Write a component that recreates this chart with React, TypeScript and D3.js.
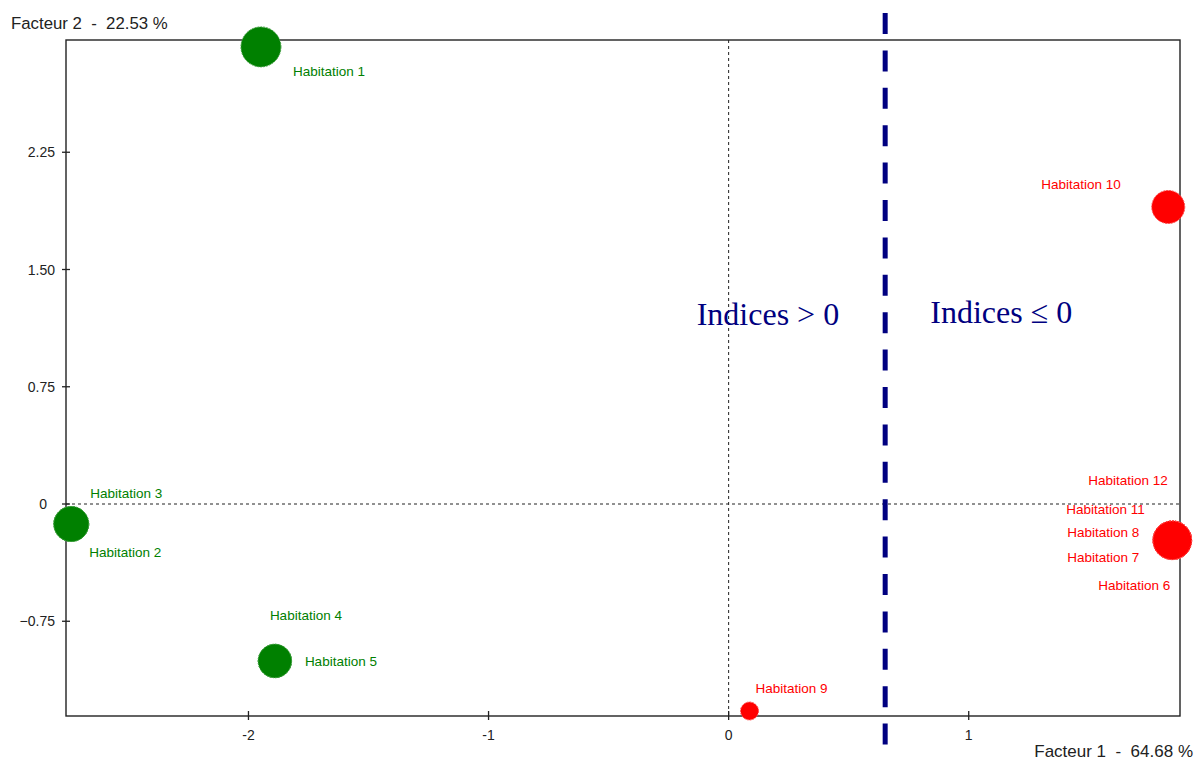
import React from "react";
import * as d3 from "d3";

// ---- data ----
const names = [
  "Habitation 1", "Habitation 2", "Habitation 3", "Habitation 4", "Habitation 5",
  "Habitation 6", "Habitation 7", "Habitation 8", "Habitation 9", "Habitation 10",
  "Habitation 11", "Habitation 12",
];
const factor1 = [-1.948, -2.738, -2.738, -1.89, -1.89, 1.848, 1.848, 1.848, 0.087, 1.831, 1.848, 1.848];
const factor2 = [2.924, -0.128, -0.128, -1.004, -1.004, -0.232, -0.232, -0.232, -1.324, 1.9, -0.232, -0.232];
const weights = [1.0, 0.766, 0.766, 0.697, 0.697, 0.93, 0.93, 0.93, 0.2025, 0.68, 0.93, 0.93];
const groups = ["pos", "pos", "pos", "pos", "pos", "neg", "neg", "neg", "neg", "neg", "neg", "neg"];
// label placement offsets (px) relative to point centre: [dx to text start, dy to text middle]
const labelOffsets: [number, number][] = [
  [32, 25], [18, 28], [19, -31], [-5, -45], [30, 1],
  [-74, 45], [-105, 17], [-105, -8], [6, -22], [-127, -22],
  [-106, -31], [-84, -60],
];
const xTicks = [-2, -1, 0, 1];
const yTicks = [-0.75, 0, 0.75, 1.5, 2.25];
const xTitle = "Facteur 1  -  64.68 %";
const yTitle = "Facteur 2  -  22.53 %";
const threshold = 0.652;
const annotations = [
  { text: "Indices > 0", x: -0.133, y: 1.145 },
  { text: "Indices \u2264 0", x: 0.84, y: 1.156 },
];

const colors: Record<string, string> = { pos: "#008000", neg: "#ff0000" };
const strokeColors: Record<string, string> = { pos: "#3f9f3f", neg: "#ff5050" };

export default function App() {
  const W = 1200, H = 760;
  const left = 66, right = 1180, top = 40, bottom = 716;
  const x = d3.scaleLinear().domain([-2.76, 1.88]).range([left, right]);
  const y = d3.scaleLinear().domain([-1.356, 2.968]).range([bottom, top]);
  const r = d3.scaleSqrt().domain([0, 1]).range([0, 20]);
  const fmtY = (v: number) => (v === 0 ? "0" : d3.format(".2f")(v));
  const sans = "'Liberation Sans', Arial, sans-serif";
  const serif = "'Liberation Serif', 'Times New Roman', serif";
  const textCol = "#222";

  return (
    <svg width={W} height={H} style={{ position: "absolute", left: 0, top: 0, background: "#fff" }}>
      <rect x={0} y={0} width={W} height={H} fill="#fff" />
      {/* zero lines */}
      <line x1={left} x2={right} y1={y(0)} y2={y(0)} stroke={textCol} strokeWidth={1} strokeDasharray="3,3" />
      <line x1={x(0)} x2={x(0)} y1={top} y2={bottom} stroke={textCol} strokeWidth={1} strokeDasharray="3,3" />
      {/* frame */}
      <rect x={left} y={top} width={right - left} height={bottom - top} fill="none" stroke={textCol} strokeWidth={1.4} />
      {/* x ticks */}
      {xTicks.map((t) => (
        <g key={"xt" + t}>
          <line x1={x(t)} x2={x(t)} y1={bottom - 5} y2={bottom + 4} stroke={textCol} strokeWidth={1.3} />
          <text x={x(t)} y={bottom + 24} textAnchor="middle" fontFamily={sans} fontSize={14} fill={textCol}>
            {t}
          </text>
        </g>
      ))}
      {/* y ticks */}
      {yTicks.map((t) => (
        <g key={"yt" + t}>
          <line x1={left - 4} x2={left + 4} y1={y(t)} y2={y(t)} stroke={textCol} strokeWidth={1.3} />
          <text
            x={t === 0 ? 47 : 55}
            y={y(t) + 5}
            textAnchor="end"
            fontFamily={sans}
            fontSize={14}
            fill={textCol}
          >
            {fmtY(t)}
          </text>
        </g>
      ))}
      {/* axis titles */}
      <text x={11} y={28.5} fontFamily={sans} fontSize={16.8} fill={textCol} style={{ whiteSpace: "pre" }}>
        {yTitle}
      </text>
      <text x={1193} y={757} textAnchor="end" fontFamily={sans} fontSize={17} fill={textCol} style={{ whiteSpace: "pre" }}>
        {xTitle}
      </text>
      {/* threshold */}
      <line
        x1={x(threshold)}
        x2={x(threshold)}
        y1={13}
        y2={745}
        stroke="#000080"
        strokeWidth={5}
        strokeDasharray="21,16.4"
      />
      {/* annotations */}
      {annotations.map((a) => (
        <text key={a.text} x={x(a.x)} y={y(a.y)} fontFamily={serif} fontSize={32} fill="#000080">
          {a.text}
        </text>
      ))}
      {/* points */}
      {names.map((n, i) => (
        <circle
          key={"c" + n}
          cx={x(factor1[i])}
          cy={y(factor2[i])}
          r={r(weights[i])}
          fill={colors[groups[i]]}
          stroke={strokeColors[groups[i]]}
          strokeWidth={1}
          strokeDasharray="2,1"
        />
      ))}
      {/* labels */}
      {names.map((n, i) => (
        <text
          key={"l" + n}
          x={x(factor1[i]) + labelOffsets[i][0]}
          y={y(factor2[i]) + labelOffsets[i][1]}
          dominantBaseline="central"
          fontFamily={sans}
          fontSize={13.5}
          fill={colors[groups[i]]}
        >
          {n}
        </text>
      ))}
    </svg>
  );
}
